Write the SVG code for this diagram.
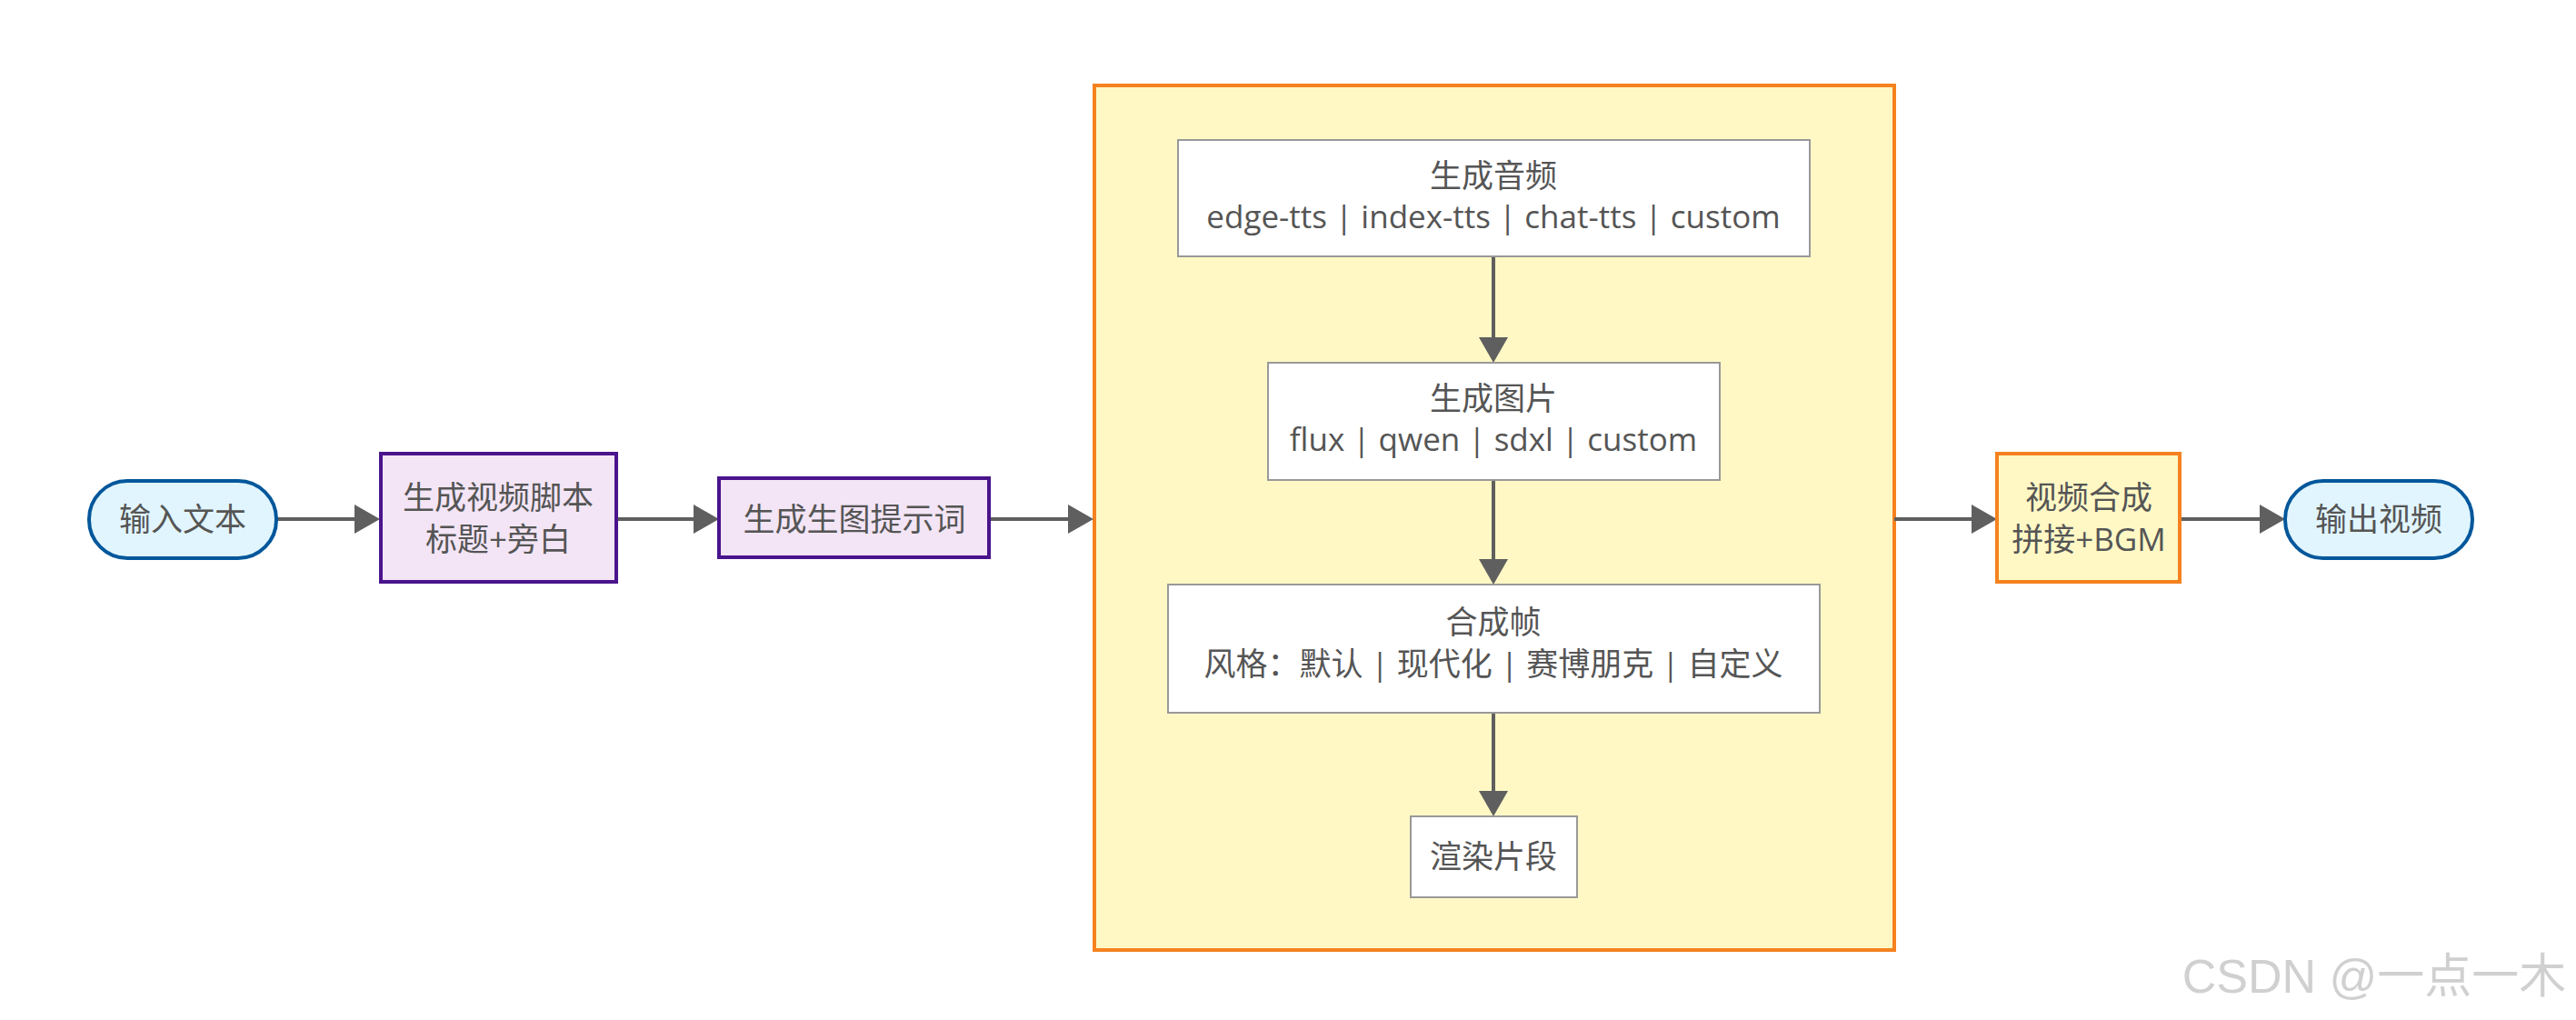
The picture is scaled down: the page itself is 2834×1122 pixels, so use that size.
<svg xmlns="http://www.w3.org/2000/svg" width="2834" height="1122" viewBox="0 0 2834 1122">
<style>
text{font-family:"Trebuchet MS","Open Sans","Noto Sans CJK SC",sans-serif;font-size:35px;fill:#555;text-anchor:middle}
.b{fill:#e1f5fe;stroke:#01579b;stroke-width:4}
.p{fill:#f3e5f5;stroke:#4a148c;stroke-width:4}
.y{fill:#fff8c5;stroke:#f5821f;stroke-width:4}
.w{fill:#fff;stroke:#999;stroke-width:2}
.l{stroke:#5f5f5f;stroke-width:4}
</style>
<rect width="2834" height="1122" fill="#fff"/>
<g id="container"><rect class="y" x="1204" y="94" width="880" height="951"/></g>
<g id="connectors" fill="#5f5f5f">
<line class="l" x1="304" y1="571" x2="395" y2="571"/><path d="M390,555L418,571L390,587z"/>
<line class="l" x1="678" y1="571" x2="770" y2="571"/><path d="M763,555L791,571L763,587z"/>
<line class="l" x1="1088" y1="571" x2="1180" y2="571"/><path d="M1175,555L1203,571L1175,587z"/>
<line class="l" x1="2084" y1="571" x2="2175" y2="571"/><path d="M2169,555L2197,571L2169,587z"/>
<line class="l" x1="2398" y1="571" x2="2490" y2="571"/><path d="M2486,555L2514,571L2486,587z"/>
<line class="l" x1="1643" y1="282" x2="1643" y2="375"/><path d="M1627,371L1643,399L1659,371z"/>
<line class="l" x1="1643" y1="528" x2="1643" y2="620"/><path d="M1627,615L1643,643L1659,615z"/>
<line class="l" x1="1643" y1="784" x2="1643" y2="875"/><path d="M1627,870L1643,898L1659,870z"/>
</g>
<g id="input"><rect class="b" x="98" y="529" width="206" height="85" rx="42"/><text x="201" y="584">输入文本</text></g>
<g id="script"><rect class="p" x="419" y="499" width="259" height="141"/><text x="548" y="560">生成视频脚本</text><text x="548" y="606">标题+旁白</text></g>
<g id="prompt"><rect class="p" x="791" y="526" width="297" height="87"/><text x="940" y="584">生成生图提示词</text></g>
<g id="audio"><rect class="w" x="1296" y="154" width="695" height="128"/><text x="1643" y="206">生成音频</text><text x="1643" y="251">edge-tts | index-tts | chat-tts | custom</text></g>
<g id="image"><rect class="w" x="1395" y="399" width="497" height="129"/><text x="1643" y="451">生成图片</text><text x="1643" y="496">flux | qwen | sdxl | custom</text></g>
<g id="frame"><rect class="w" x="1285" y="643" width="717" height="141"/><text x="1643" y="697">合成帧</text><text x="1643" y="743">风格：默认 | 现代化 | 赛博朋克 | 自定义</text></g>
<g id="render"><rect class="w" x="1552" y="898" width="183" height="89"/><text x="1643" y="955">渲染片段</text></g>
<g id="compose"><rect class="y" x="2197" y="499" width="201" height="141"/><text x="2298" y="560">视频合成</text><text x="2298" y="606">拼接+BGM</text></g>
<g id="output"><rect class="b" x="2514" y="529" width="206" height="85" rx="42"/><text x="2617" y="584">输出视频</text></g>
<text x="2612" y="1092" style="font-family:'Liberation Sans','Noto Sans CJK SC',sans-serif;font-size:52px;fill:#d0d0d0">CSDN @一点一木</text>
</svg>
